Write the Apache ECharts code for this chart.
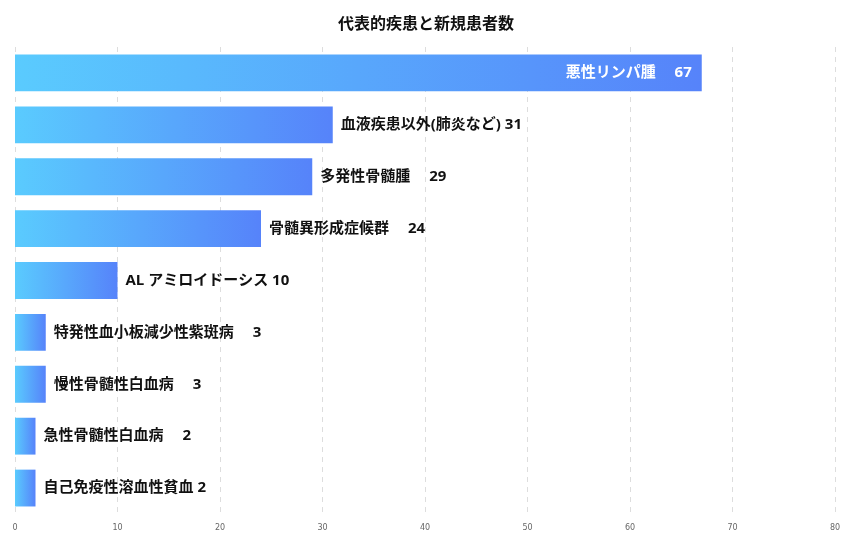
<!DOCTYPE html>
<html><head><meta charset="utf-8">
<script src="https://cdn.jsdelivr.net/npm/echarts@6/dist/echarts.min.js"></script>
<style>html,body{margin:0;padding:0;background:#fff}#c{width:852px;height:539px}</style>
</head><body><div id="c"></div>
<script>
const titleText = '代表的疾患と新規患者数';
const categories = ['悪性リンパ腫','血液疾患以外(肺炎など)','多発性骨髄腫','骨髄異形成症候群','AL アミロイドーシス','特発性血小板減少性紫斑病','慢性骨髄性白血病','急性骨髄性白血病','自己免疫性溶血性貧血'];
const values = [67,31,29,24,10,3,3,2,2];
const xTicks = [0,10,20,30,40,50,60,70,80];

const wideGap = [true,false,true,true,false,true,true,true,false];
const FONT = '"Open Sans", "Noto Sans CJK JP", sans-serif';
const chart = echarts.init(document.getElementById('c'));
const grad = new echarts.graphic.LinearGradient(0,0,1,0,[{offset:0,color:'#5ACBFE'},{offset:1,color:'#5683FA'}]);
chart.setOption({
  animation:false,
  title:{text:titleText,left:'center',top:10,textStyle:{fontFamily:'"Noto Sans CJK JP", sans-serif',fontSize:16,fontWeight:'bold',color:'#111'}},
  grid:{left:15,right:17,top:47,bottom:25,containLabel:false},
  xAxis:{type:'value',min:xTicks[0],max:xTicks[xTicks.length-1],interval:10,
    axisLine:{show:false},axisTick:{show:false},
    axisLabel:{fontSize:8,color:'#666',fontFamily:'"DejaVu Sans", sans-serif',margin:10},
    splitLine:{show:true,lineStyle:{type:[5,5],color:'#ddd'}}},
  yAxis:{type:'category',data:categories,inverse:true,axisLine:{show:false},axisTick:{show:false},axisLabel:{show:false}},
  series:[{type:'bar',barWidth:'71%',
    data:values.map((v,i)=>({value:v,label:i===0?{position:'insideRight',color:'#fff',distance:10}:{}})),
    itemStyle:{color:grad},
    label:{show:true,position:'right',distance:8,color:'#111',fontWeight:'bold',fontSize:15,fontFamily:FONT,
      formatter:p=>p.name+(wideGap[p.dataIndex]?'\u3000 ':' ')+p.value}
  }]
});
</script></body></html>
